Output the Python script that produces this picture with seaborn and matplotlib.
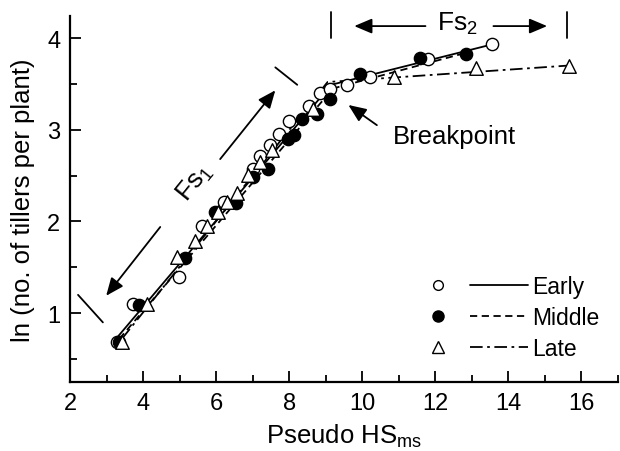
import matplotlib
matplotlib.use("Agg")
import matplotlib.pyplot as plt
import seaborn as sns
import pandas as pd
from matplotlib.lines import Line2D
from matplotlib.legend_handler import HandlerTuple

# ---------------- data ----------------
early_x = [3.29, 3.73, 4.99, 5.62, 6.22, 7.02, 7.21, 7.48, 7.71, 8.00, 8.53, 8.83, 9.12, 9.58, 10.22, 11.79, 13.55]
early_y = [0.69, 1.10, 1.39, 1.95, 2.21, 2.57, 2.71, 2.83, 2.95, 3.09, 3.26, 3.40, 3.44, 3.49, 3.58, 3.77, 3.93]

middle_x = [3.35, 3.90, 5.15, 5.96, 6.54, 7.02, 7.42, 7.96, 8.12, 8.36, 8.76, 9.12, 9.95, 11.57, 12.85]
middle_y = [0.69, 1.09, 1.60, 2.10, 2.20, 2.49, 2.57, 2.90, 2.94, 3.12, 3.17, 3.33, 3.61, 3.78, 3.83]

late_x = [3.42, 4.12, 4.94, 5.42, 5.74, 6.06, 6.29, 6.57, 6.86, 7.21, 7.52, 8.65, 10.86, 13.10, 15.65]
late_y = [0.69, 1.10, 1.61, 1.79, 1.95, 2.10, 2.21, 2.31, 2.51, 2.65, 2.78, 3.23, 3.57, 3.67, 3.70]

# fitted broken-line models (start, breakpoint, end)
early_fit_x = [3.30, 9.15, 13.55]
early_fit_y = [0.74, 3.49, 3.93]
middle_fit_x = [3.35, 9.20, 12.85]
middle_fit_y = [0.72, 3.45, 3.84]
late_fit_x = [3.42, 9.05, 15.65]
late_fit_y = [0.72, 3.52, 3.70]

series_names = ["Early", "Middle", "Late"]
x_ticks = [2, 4, 6, 8, 10, 12, 14, 16]
y_ticks = [1, 2, 3, 4]

# ---------------- style ----------------
sns.set_theme(style="ticks")
plt.rcParams["font.family"] = ["Liberation Sans", "DejaVu Sans"]
plt.rcParams["mathtext.fontset"] = "custom"
plt.rcParams["mathtext.rm"] = "Liberation Sans"
plt.rcParams["mathtext.it"] = "Liberation Sans:italic"
plt.rcParams["mathtext.bf"] = "Liberation Sans:bold"
for key in ["text.color", "axes.labelcolor", "xtick.color", "ytick.color",
            "xtick.labelcolor", "ytick.labelcolor", "axes.edgecolor"]:
    plt.rcParams[key] = "black"

fig = plt.figure(figsize=(6.2, 4.52), dpi=100)
ax = fig.add_axes([70 / 620, (452 - 383) / 452, (618 - 70) / 620, (383 - 17) / 452])

def frame(x, y, name):
    return pd.DataFrame({"x": x, "y": y, "series": name})

# fitted lines
sns.lineplot(data=frame(early_fit_x, early_fit_y, "Early"), x="x", y="y", ax=ax,
             color="black", lw=1.3, linestyle="-", sort=False, estimator=None, legend=False)
sns.lineplot(data=frame(middle_fit_x, middle_fit_y, "Middle"), x="x", y="y", ax=ax,
             color="black", lw=1.3, linestyle=(0, (4, 2.5)), sort=False, estimator=None, legend=False)
sns.lineplot(data=frame(late_fit_x, late_fit_y, "Late"), x="x", y="y", ax=ax,
             color="black", lw=1.3, linestyle=(0, (7, 2.5, 1.5, 2.5)), sort=False, estimator=None, legend=False)

# points
sns.scatterplot(data=frame(early_x, early_y, "Early"), x="x", y="y", ax=ax, marker="o",
                s=78, facecolor="white", edgecolor="black", linewidth=1.0, legend=False, zorder=3)
sns.scatterplot(data=frame(middle_x, middle_y, "Middle"), x="x", y="y", ax=ax, marker="o",
                s=78, facecolor="black", edgecolor="black", linewidth=1.0, legend=False, zorder=4)
sns.scatterplot(data=frame(late_x, late_y, "Late"), x="x", y="y", ax=ax, marker="^",
                s=95, facecolor="white", edgecolor="black", linewidth=1.0, legend=False, zorder=5)

# axes
ax.set_xlim(2, 17)
ax.set_ylim(0.25, 4.24)
ax.set_xticks(x_ticks)
ax.set_yticks(y_ticks)
ax.set_xticks([3, 5, 7, 9, 11, 13, 15, 17], minor=True)
ax.set_yticks([0.5, 1.5, 2.5, 3.5], minor=True)
ax.tick_params(which="major", direction="in", length=8, width=1.3, labelsize=17,
               colors="black", labelcolor="black", pad=7)
ax.tick_params(which="minor", direction="in", length=5, width=1.3, colors="black")
for s in ["left", "bottom"]:
    ax.spines[s].set_linewidth(1.6)
    ax.spines[s].set_color("black")
sns.despine(ax=ax)
ax.set_xlabel(r"Pseudo HS$_\mathregular{ms}$", fontsize=18.5, labelpad=6, color="black")
ax.set_ylabel("ln (no. of tillers per plant)", fontsize=18.5, labelpad=9, color="black")

# annotations
arr = dict(arrowstyle="-|>,head_length=0.9,head_width=0.38", color="black", lw=1.3,
           shrinkA=0, shrinkB=0)
ax.annotate("", xy=(2.99, 1.19), xytext=(4.47, 1.94), arrowprops=arr, annotation_clip=False)
ax.annotate("", xy=(7.62, 3.43), xytext=(6.11, 2.68), arrowprops=arr, annotation_clip=False)
ax.plot([2.22, 2.90], [1.20, 0.90], color="black", lw=1.3, clip_on=False)
ax.plot([7.62, 8.22], [3.68, 3.49], color="black", lw=1.3, clip_on=False)
ax.text(5.42, 2.43, r"Fs$_1$", rotation=51, fontsize=19, ha="center", va="center",
        rotation_mode="anchor", color="black")

ax.plot([9.14, 9.14], [4.0, 4.28], color="black", lw=1.3, clip_on=False)
ax.plot([15.61, 15.61], [4.0, 4.28], color="black", lw=1.3, clip_on=False)
ax.annotate("", xy=(9.78, 4.13), xytext=(11.73, 4.13), arrowprops=arr, annotation_clip=False)
ax.annotate("", xy=(15.06, 4.13), xytext=(13.59, 4.13), arrowprops=arr, annotation_clip=False)
ax.text(12.6, 4.17, r"Fs$_2$", fontsize=19, ha="center", va="center", clip_on=False, color="black")

ax.annotate("", xy=(9.62, 3.27), xytext=(10.40, 3.05), arrowprops=arr)
ax.text(10.85, 2.93, "Breakpoint", fontsize=18.5, ha="left", va="center", color="black")

# legend
mk_e = Line2D([], [], marker="o", ls="none", ms=7, mfc="white", mec="black", mew=1.0)
mk_m = Line2D([], [], marker="o", ls="none", ms=8, mfc="black", mec="black", mew=1.0)
mk_l = Line2D([], [], marker="^", ls="none", ms=8, mfc="white", mec="black", mew=1.0)
ln_e = Line2D([], [], color="black", lw=1.3, ls="-")
ln_m = Line2D([], [], color="black", lw=1.3, ls=(0, (4, 2.5)))
ln_l = Line2D([], [], color="black", lw=1.3, ls=(0, (7, 2.5, 1.5, 2.5)))
fs_px = 16.5 * 100 / 72
leg = ax.legend([(mk_e, ln_e), (mk_m, ln_m), (mk_l, ln_l)], series_names,
                handler_map={tuple: HandlerTuple(ndivide=None, pad=3 / fs_px)},
                loc="upper left", bbox_to_anchor=(409 / 620, 1 - 276 / 452),
                bbox_transform=fig.transFigure, frameon=False, fontsize=16.5,
                handlelength=119 / fs_px, handletextpad=4 / fs_px, borderpad=0,
                borderaxespad=0, labelspacing=0.36, numpoints=1, labelcolor="black")

fig.savefig("out.png", dpi=100)
